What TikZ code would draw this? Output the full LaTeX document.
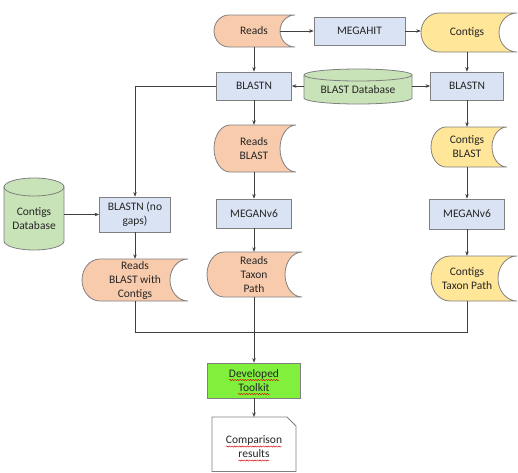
\documentclass[tikz,border=0pt]{standalone}
\usepackage{fontspec}
\setmainfont{Carlito}
\usetikzlibrary{arrows.meta,calc,decorations.pathmorphing}

\definecolor{orf}{HTML}{F8CBAD}
\definecolor{yef}{HTML}{FFE699}
\definecolor{bluef}{HTML}{DAE3F3}
\definecolor{grf}{HTML}{C9E3B8}
\definecolor{limef}{RGB}{128,240,60}
\definecolor{bord}{HTML}{808080}
\definecolor{arr}{HTML}{404040}
\definecolor{txt}{HTML}{262626}

\tikzset{
  every node/.style={font=\fontsize{11.5}{14}\selectfont, text=txt},
  box/.style={draw=bord, fill=bluef, line width=0.8pt, inner sep=0pt, align=center},
  shp/.style={draw=bord, line width=0.8pt},
  lbl/.style={inner sep=0pt, align=center},
  con/.style={draw=arr, line width=0.6pt},
  arw/.style={con, -{Stealth[length=4.5pt,width=3.5pt]}},
  squig/.style={draw=red!85!black, line width=0.45pt, decorate,
    decoration={snake, amplitude=0.6pt, segment length=2.6pt}},
}

% name, L, T, R, B, depth, fill, text, text-centre x
\newcommand\stored[9]{%
  \filldraw[shp,fill=#7] (#2+#6,#3) -- (#4,#3)
    arc[start angle=90,end angle=270,x radius=#6pt,y radius={(#5-#3)/2*1pt}]
    -- (#2+#6,#5)
    arc[start angle=270,end angle=90,x radius=#6pt,y radius={(#5-#3)/2*1pt}]
    -- cycle;
  \node[lbl, minimum width={2*(#9-#2)*1pt}, minimum height={(#5-#3)*1pt}] (#1) at (#9,{(#3+#5)/2}) {#8};
}

% name, L, T, R, B, ry, text
\newcommand\cyl[7]{%
  \filldraw[shp,fill=grf] (#2,#3+#6) -- (#2,#5-#6)
    arc[start angle=180,end angle=360,x radius={(#4-#2)/2*1pt},y radius=#6pt]
    -- (#4,#3+#6)
    arc[start angle=0,end angle=180,x radius={(#4-#2)/2*1pt},y radius=#6pt]
    -- cycle;
  \draw[shp] (#2,#3+#6) arc[start angle=180,end angle=360,x radius={(#4-#2)/2*1pt},y radius=#6pt];
  \node[lbl, minimum width={(#4-#2)*1pt}, minimum height={(#5-#3-#6)*1pt}] (#1) at ({(#2+#4)/2},{(#3+#6+#5)/2}) {#7};
}

\begin{document}
\begin{tikzpicture}[x=1pt,y=-1pt]
\useasboundingbox (0,0) rectangle (518,472);

% stored-data shapes
\stored{reads}{214}{15}{295}{47}{15}{orf}{Reads}{254}
\stored{contigs}{421}{13}{517}{52}{18}{yef}{Contigs}{467}
\stored{readsblast}{214}{125}{296}{172}{16}{orf}{Reads\\BLAST}{254}
\stored{readstaxon}{207}{252}{302}{297}{17}{orf}{Reads\\Taxon\\Path}{254}
\stored{rbc}{82}{259}{188}{301}{18}{orf}{Reads\\BLAST with\\Contigs}{135}
\stored{contigsblast}{431}{127}{507}{167}{15}{yef}{Contigs\\BLAST}{467}
\stored{contigstaxon}{431}{256}{517}{301}{19}{yef}{Contigs\\Taxon Path}{467}

% cylinders
\cyl{blastdb}{304}{69}{412}{104}{6}{BLAST Database}
\cyl{contigsdb}{4}{178}{64}{250}{9}{Contigs\\Database}

% process boxes
\node[box, minimum width=91pt, minimum height=28pt] (megahit) at (359.5,31) {MEGAHIT};
\node[box, minimum width=75pt, minimum height=28pt] (blastnL) at (254,86) {BLASTN};
\node[box, minimum width=73pt, minimum height=28pt] (blastnR) at (467,86) {BLASTN};
\node[box, minimum width=71pt, minimum height=35pt] (blastnNG) at (135,214.5) {BLASTN (no\\gaps)};
\node[box, minimum width=75pt, minimum height=29pt] (meganL) at (254,213.5) {MEGANv6};
\node[box, minimum width=75pt, minimum height=30pt] (meganR) at (467,214) {MEGANv6};
\node[box, fill=limef, minimum width=93pt, minimum height=35pt] (toolkit) at (254,380.5) {Developed\\Toolkit};

% document shape
\filldraw[shp, fill=white] (212,417) -- (287,417) -- (296,426) -- (296,471.5) -- (212,471.5) -- cycle;
\node[lbl, minimum width=84pt, minimum height=40pt] (comparison) at (254,447) {Comparison\\results};
\coordinate (compTop) at (254,417);

% spell-check underlines
\draw[squig] ($(toolkit.center)+(-25,-0.5)$) -- ($(toolkit.center)+(25,-0.5)$);
\draw[squig] ($(toolkit.center)+(-16,13.5)$) -- ($(toolkit.center)+(16,13.5)$);
\draw[squig] ($(comparison.center)+(-28,-0.5)$) -- ($(comparison.center)+(28,-0.5)$);
\draw[squig] ($(comparison.center)+(-15.5,13.5)$) -- ($(comparison.center)+(15.5,13.5)$);

% connectors
\coordinate (readsin) at (280,31);
\draw[arw] (readsin) -- (readsin -| megahit.west);
\draw[arw] (megahit.east) -- (megahit.east -| contigs.west);
\draw[arw] (reads.south) -- (blastnL.north);
\draw[arw] (contigs.south) -- (blastnR.north);
\draw[arw] (blastnL.east -| blastdb.west) -- (blastnL.east);
\draw[arw] (blastnR.west -| blastdb.east) -- (blastnR.west);
\draw[arw] (blastnL.west) -| (blastnNG.north);
\draw[arw] (blastnNG.west -| contigsdb.east) -- (blastnNG.west);
\draw[arw] (blastnNG.south) -- (rbc.north);
\draw[arw] (blastnL.south) -- (readsblast.north);
\draw[arw] (readsblast.south) -- (meganL.north);
\draw[arw] (meganL.south) -- (readstaxon.north);
\draw[arw] (blastnR.south) -- (contigsblast.north);
\draw[arw] (contigsblast.south) -- (meganR.north);
\draw[arw] (meganR.south) -- (contigstaxon.north);
\coordinate (join) at (254,332);
\draw[con] (rbc.south) |- (contigstaxon.south |- join) -- (contigstaxon.south);
\draw[arw] (readstaxon.south) -- (toolkit.north);
\draw[arw] (toolkit.south) -- (compTop);
\end{tikzpicture}
\end{document}
